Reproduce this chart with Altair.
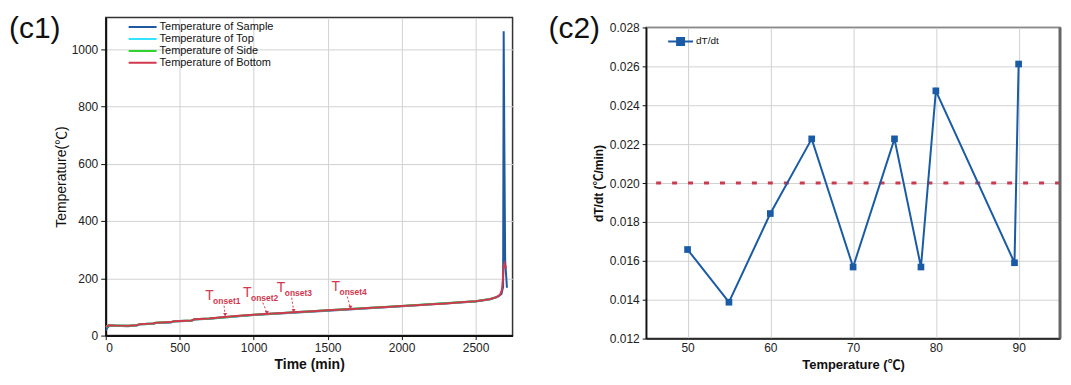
import altair as alt
import pandas as pd

# ---------------- Left panel (c1) data ----------------
series_names = ["Temperature of Sample", "Temperature of Top",
                "Temperature of Side", "Temperature of Bottom"]
series_colors = ["#1f5aa0", "#33e3ff", "#2ed42e", "#d2384e"]

bottom_time = [0, 20, 60, 150, 210, 230, 320, 340, 440, 460, 580, 600, 700, 800,
               900, 1000, 1100, 1200, 1300, 1400, 1500, 1600, 1700, 1800, 1900,
               2000, 2100, 2200, 2300, 2400, 2500, 2560, 2600, 2640, 2665, 2678,
               2685, 2690, 2695, 2700, 2705]
bottom_temp = [30, 36, 35, 34, 36, 40, 42, 45, 47, 50, 53, 57, 60, 65,
               69, 73, 76, 79, 82, 85, 88, 91, 94, 97, 100,
               103, 106, 109, 112, 116, 120, 124, 128, 134, 142, 160,
               200, 240, 252, 245, 235]

top_time = [0, 20, 60, 150, 210, 230, 320, 340, 440, 460, 580, 600, 700, 1000,
            1500, 2000, 2500, 2600, 2650]
top_temp = [30, 35, 35, 34, 36, 40, 42, 45, 47, 50, 53, 57, 60, 73,
            88, 103, 120, 128, 136]

side_time = [0, 20, 60, 150, 210, 230, 320, 340, 440, 460, 580, 600, 700, 1000,
             1500, 2000, 2500, 2600, 2650]
side_temp = [30, 35, 35, 34, 36, 40, 42, 45, 47, 50, 53, 57, 60, 73,
             88, 103, 120, 128, 136]

sample_time = [0, 10, 25, 60, 150, 210, 230, 320, 340, 440, 460, 580, 600, 700,
               1000, 1500, 2000, 2500, 2600, 2650, 2675, 2686, 2688, 2690, 2694,
               2700, 2708, 2712]
sample_temp = [18, 27, 34, 34, 33, 35, 39, 41, 44, 46, 49, 52, 56, 59,
               72, 87, 102, 119, 127, 135, 145, 170, 600, 1062, 700,
               260, 200, 167]

onset_subs = ["onset1", "onset2", "onset3", "onset4"]
onset_text_x = [672, 928, 1156, 1526]
onset_text_y = [125, 136, 153, 157]
arrow_x1 = [800, 1062, 1257, 1633]
arrow_y1 = [104, 115, 132, 136]
arrow_x2 = [807, 1089, 1270, 1654]
arrow_y2 = [73, 80, 87, 98]

time_ticks = [0, 500, 1000, 1500, 2000, 2500]
temp_ticks = [0, 200, 400, 600, 800, 1000]
time_domain = [0, 2750]
temp_domain = [0, 1110]

# ---------------- Right panel (c2) data ----------------
rate_temp = [50, 55, 60, 65, 70, 75, 78.2, 80, 89.5, 90]
rate_val = [0.01658, 0.01387, 0.01843, 0.02227, 0.01568, 0.02227, 0.01568,
            0.02474, 0.0159, 0.02612]
threshold = [0.020]
rate_x_ticks = [50, 60, 70, 80, 90]
rate_y_ticks = [0.012, 0.014, 0.016, 0.018, 0.020, 0.022, 0.024, 0.026, 0.028]
rate_x_domain = [45, 95]
rate_y_domain = [0.012, 0.028]

FONT = "Liberation Sans, Noto Sans CJK SC"
RED = "#d2384e"
BLUE = "#1a5ba6"
PANEL_FONT = "Liberation Sans"

# ---------------- Left chart ----------------
xs = alt.Scale(domain=time_domain, nice=False)
ys = alt.Scale(domain=temp_domain, nice=False)
x_axis = alt.Axis(values=time_ticks, format="d", title="Time (min)", titleFontSize=14,
                  titleFontWeight="bold", titlePadding=4, labelPadding=3,
                  tickSize=4, domainWidth=2, grid=True)
y_axis = alt.Axis(values=temp_ticks, format="d", title="Temperature(℃)", titleFontSize=14,
                  titleFontWeight="normal", titlePadding=3, labelPadding=3,
                  tickSize=5, domainWidth=2, grid=True)
color_left = alt.Scale(domain=series_names, range=series_colors)
legend_left = alt.Legend(title=None, orient="none", legendX=22, legendY=5,
                         symbolType="stroke", symbolSize=784, symbolStrokeWidth=2,
                         labelFontSize=11, labelFont="Liberation Sans",
                         labelColor="#111", clipHeight=9.0, rowPadding=0,
                         padding=0, labelOffset=2)


def series_layer(times, temps, name):
    df = pd.DataFrame({"t": times, "v": temps, "s": name})
    return alt.Chart(df).mark_line(strokeWidth=2, clip=True).encode(
        x=alt.X("t:Q", scale=xs, axis=x_axis),
        y=alt.Y("v:Q", scale=ys, axis=y_axis),
        color=alt.Color("s:N", scale=color_left, legend=legend_left),
    )


onset_df = pd.DataFrame({"x": onset_text_x, "y": onset_text_y, "sub": onset_subs,
                         "T": ["T"] * 4, "x1": arrow_x1, "y1": arrow_y1,
                         "x2": arrow_x2, "y2": arrow_y2})
t_text = alt.Chart(onset_df).mark_text(align="left", baseline="alphabetic",
                                       fontSize=14, font="Liberation Sans",
                                       color=RED).encode(
    x=alt.X("x:Q", scale=xs), y=alt.Y("y:Q", scale=ys), text="T:N")
sub_text = alt.Chart(onset_df).mark_text(align="left", baseline="alphabetic",
                                         fontSize=8.5, fontWeight="bold",
                                         font="Liberation Sans", color=RED,
                                         dx=8, dy=4).encode(
    x=alt.X("x:Q", scale=xs), y=alt.Y("y:Q", scale=ys), text="sub:N")
arrows = alt.Chart(onset_df).mark_rule(color=RED, strokeWidth=1,
                                       strokeDash=[2, 2]).encode(
    x=alt.X("x1:Q", scale=xs), y=alt.Y("y1:Q", scale=ys), x2="x2:Q", y2="y2:Q")
heads = alt.Chart(onset_df).mark_point(shape="triangle-down", filled=True,
                                       size=16, color=RED, opacity=1).encode(
    x=alt.X("x2:Q", scale=xs), y=alt.Y("y2:Q", scale=ys))

c1_label = alt.Chart(pd.DataFrame({"lab": ["(c1)"]})).mark_text(
    align="left", baseline="top", fontSize=30, font=PANEL_FONT,
    fontWeight="normal", color="#111").encode(
    x=alt.value(-97), y=alt.value(-3), text="lab:N")

left = alt.layer(
    series_layer(sample_time, sample_temp, series_names[0]),
    series_layer(top_time, top_temp, series_names[1]),
    series_layer(side_time, side_temp, series_names[2]),
    series_layer(bottom_time, bottom_temp, series_names[3]),
    arrows, heads, t_text, sub_text, c1_label,
).properties(width=408, height=319)

# ---------------- Right chart ----------------
rxs = alt.Scale(domain=rate_x_domain, nice=False)
rys = alt.Scale(domain=rate_y_domain, nice=False, zero=False)
rx_axis = alt.Axis(values=rate_x_ticks, title="Temperature (℃)", titleFontSize=13,
                   titleFontWeight="bold", titlePadding=5, labelPadding=4,
                   tickSize=0, domainWidth=1.5, grid=True)
ry_axis = alt.Axis(values=rate_y_ticks, format=".3f", title="dT/dt (℃/min)",
                   titleFontSize=12, titleFontWeight="bold", titlePadding=4,
                   labelPadding=3, tickSize=4, domainWidth=1.5, grid=True)
legend_right = alt.Legend(title=None, orient="none", legendX=21, legendY=8,
                          symbolType="M-1,0L1,0M-0.28,-0.28L0.28,-0.28L0.28,0.28L-0.28,0.28Z",
                          symbolSize=625, symbolStrokeWidth=2,
                          symbolFillColor=BLUE, symbolStrokeColor=BLUE,
                          labelFontSize=10, labelFont="Liberation Sans",
                          labelColor="#111", clipHeight=12, padding=0,
                          labelOffset=2)

rate_df = pd.DataFrame({"temp": rate_temp, "rate": rate_val, "s": "dT/dt"})
base = alt.Chart(rate_df).encode(
    x=alt.X("temp:Q", scale=rxs, axis=rx_axis),
    y=alt.Y("rate:Q", scale=rys, axis=ry_axis),
    color=alt.Color("s:N", scale=alt.Scale(range=[BLUE]), legend=legend_right),
)
r_line = base.mark_line(strokeWidth=2)
r_pts = base.mark_point(shape="square", filled=True, size=45, opacity=1)
r_thr = alt.Chart(pd.DataFrame({"rate": threshold})).mark_rule(
    color="#cc3a50", strokeWidth=3, strokeDash=[5, 11]).encode(
    y=alt.Y("rate:Q", scale=rys, axis=ry_axis))
r_border = alt.Chart(pd.DataFrame({"temp": [rate_x_domain[1]]})).mark_rule(
    color="#666", strokeWidth=3).encode(x=alt.X("temp:Q", scale=rxs, axis=rx_axis))

c2_label = alt.Chart(pd.DataFrame({"lab": ["(c2)"]})).mark_text(
    align="left", baseline="top", fontSize=30, font=PANEL_FONT,
    fontWeight="normal", color="#111").encode(
    x=alt.value(-98), y=alt.value(-13), text="lab:N")

right = alt.layer(r_thr, r_line, r_pts, r_border, c2_label).properties(
    width=415, height=312)

# empty spacer that pushes the right panel's plot area down
spacer = alt.Chart(pd.DataFrame({"a": [0]})).mark_point(opacity=0).properties(
    width=415, height=10, view=alt.ViewBackground(stroke="transparent"))

right_col = alt.vconcat(spacer, right, spacing=0, bounds="flush").resolve_legend(
    color="independent")

chart = alt.hconcat(left, right_col, spacing=34).resolve_scale(
    color="independent").resolve_legend(color="independent").properties(
    padding={"left": 0, "top": 5, "right": 0, "bottom": 0}
).configure_axis(
    labelFont=FONT, titleFont=FONT, labelFontSize=12, labelColor="#222",
    titleColor="#111", domainColor="#111", tickColor="#111",
    gridColor="#d2d2d2", gridWidth=1
).configure_view(stroke="#333", strokeWidth=1.5)

chart.save("out.html", embed_options={"renderer": "svg", "actions": False})
